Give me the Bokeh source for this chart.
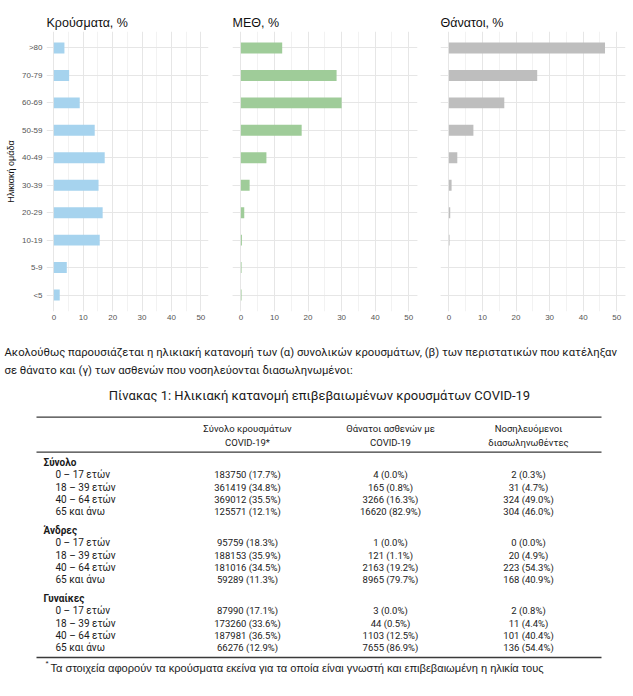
from bokeh.plotting import figure
from bokeh.layouts import column, row
from bokeh.models import Range1d, FixedTicker, ColumnDataSource, Grid
from bokeh.core.properties import value
from bokeh.embed import file_html
from bokeh.resources import INLINE

# ---------------- data ----------------
ages = ["<5", "5-9", "10-19", "20-29", "30-39", "40-49", "50-59", "60-69", "70-79", ">80"]
cases_pct = [2.0, 4.4, 15.6, 16.6, 15.2, 17.3, 13.9, 8.8, 5.2, 3.6]
icu_pct = [0.2, 0.2, 0.3, 1.0, 2.6, 7.6, 18.1, 30.0, 28.5, 12.3]
deaths_pct = [0.0, 0.0, 0.2, 0.4, 0.8, 2.5, 7.3, 16.5, 26.3, 46.5]
x_ticks = [0, 10, 20, 30, 40, 50]

paragraph = [
    "Ακολούθως παρουσιάζεται η ηλικιακή κατανομή των (α) συνολικών κρουσμάτων, (β) των περιστατικών που κατέληξαν",
    "σε θάνατο και (γ) των ασθενών που νοσηλεύονται διασωληνωμένοι:",
]
table_title = "Πίνακας 1: Ηλικιακή κατανομή επιβεβαιωμένων κρουσμάτων COVID-19"
col_headers = [["Σύνολο κρουσμάτων", "COVID-19*"],
               ["Θάνατοι ασθενών με", "COVID-19"],
               ["Νοσηλευόμενοι", "διασωληνωθέντες"]]
groups = ["Σύνολο", "Άνδρες", "Γυναίκες"]
row_labels = ["0 – 17 ετών", "18 – 39 ετών", "40 – 64 ετών", "65 και άνω"]
tbl_cases_n = [[183750, 361419, 369012, 125571], [95759, 188153, 181016, 59289], [87990, 173260, 187981, 66276]]
tbl_cases_p = [[17.7, 34.8, 35.5, 12.1], [18.3, 35.9, 34.5, 11.3], [17.1, 33.6, 36.5, 12.9]]
tbl_deaths_n = [[4, 165, 3266, 16620], [1, 121, 2163, 8965], [3, 44, 1103, 7655]]
tbl_deaths_p = [[0.0, 0.8, 16.3, 82.9], [0.0, 1.1, 19.2, 79.7], [0.0, 0.5, 12.5, 86.9]]
tbl_icu_n = [[2, 31, 324, 304], [0, 20, 223, 168], [2, 11, 101, 136]]
tbl_icu_p = [[0.3, 4.7, 49.0, 46.0], [0.0, 4.9, 54.3, 40.9], [0.8, 4.4, 40.4, 54.4]]
footnote = "Τα στοιχεία αφορούν τα κρούσματα εκείνα για τα οποία είναι γνωστή και επιβεβαιωμένη η ηλικία τους"

SANS = "Liberation Sans"
NARROW = "Roboto"
TICK_COLOR = "#555555"


def panel(vals, color, title, w, left, right, show_y):
    p = figure(width=w, height=331,
               min_border_left=left, min_border_right=right,
               min_border_top=31, min_border_bottom=20,
               x_range=Range1d(-2.5, 52.6), y_range=Range1d(-0.6, 9.6),
               y_axis_location="left" if show_y else None,
               output_backend="svg", toolbar_location=None, title=title)
    p.title.text_font = SANS
    p.title.text_font_size = "12.5px"
    p.title.text_font_style = "normal"
    p.title.text_color = "#111111"
    p.title.align = "left"
    p.title.standoff = 4
    p.outline_line_color = None
    p.background_fill_color = "white"

    p.xaxis.ticker = FixedTicker(ticks=x_ticks, minor_ticks=[5, 15, 25, 35, 45])
    p.xaxis.axis_line_color = None
    p.xaxis.major_tick_line_color = None
    p.xaxis.minor_tick_line_color = None
    p.xaxis.major_tick_out = 0
    p.xaxis.major_tick_in = 0
    p.xaxis.minor_tick_out = 0
    p.xaxis.major_label_text_font = SANS
    p.xaxis.major_label_text_font_size = "8px"
    p.xaxis.major_label_text_color = TICK_COLOR
    p.xaxis.major_label_standoff = 3
    p.xgrid.grid_line_color = "#e6e6e6"
    p.xgrid.minor_grid_line_color = "#f2f2f2"

    yt = FixedTicker(ticks=list(range(len(ages))))
    if show_y:
        p.yaxis.ticker = yt
        p.yaxis.major_label_overrides = {i: a for i, a in enumerate(ages)}
        p.yaxis.axis_line_color = None
        p.yaxis.major_tick_line_color = None
        p.yaxis.minor_tick_line_color = None
        p.yaxis.major_tick_out = 0
        p.yaxis.major_tick_in = 0
        p.yaxis.minor_tick_out = 0
        p.yaxis.major_label_text_font = SANS
        p.yaxis.major_label_text_font_size = "8px"
        p.yaxis.major_label_text_color = TICK_COLOR
        p.yaxis.major_label_standoff = 4
        p.yaxis.axis_label = "Ηλικιακή ομάδα"
        p.yaxis.axis_label_text_font = SANS
        p.yaxis.axis_label_text_font_size = "9px"
        p.yaxis.axis_label_text_font_style = "normal"
        p.yaxis.axis_label_text_color = "#111111"
        p.yaxis.axis_label_standoff = 3
        p.ygrid.ticker = yt
        p.ygrid.grid_line_color = "#e6e6e6"
    else:
        p.add_layout(Grid(dimension=1, ticker=yt, grid_line_color="#e6e6e6"))

    src = ColumnDataSource(dict(pos=list(range(len(ages))), val=vals))
    p.hbar(y="pos", left=0, right="val", height=0.4, source=src,
           fill_color=color, line_color=None)
    return p


p1 = panel(cases_pct, "#a6d3ee", "Κρούσματα, %", 220, 46, 12, True)
p2 = panel(icu_pct, "#9fcc99", "ΜΕΘ, %", 205, 12, 8, False)
p3 = panel(deaths_pct, "#bebebe", "Θάνατοι, %", 206, 15, 6, False)

# ---------------- lower part: text + table (page pixel coordinates) ----------------
W = 631
TOP = 331
H = 360
q = figure(width=W, height=H, x_range=Range1d(0, W), y_range=Range1d(TOP + H, TOP),
           x_axis_type=None, y_axis_type=None, min_border=0,
           output_backend="svg", toolbar_location=None)
q.outline_line_color = None
q.background_fill_color = "white"

TXT = "#1a1a1a"
# paragraph
q.text(x=[4] * len(paragraph), y=[352 + 18 * i for i in range(len(paragraph))], text=paragraph,
       text_font=value(NARROW), text_font_size="11.3px", text_color=TXT,
       text_baseline="middle", text_align="left")
# table title
q.text(x=[319], y=[395], text=[table_title], text_font=value(NARROW), text_font_size="13px",
       text_color=TXT, text_baseline="middle", text_align="center")

# rules
q.segment(x0=[36, 36, 36], x1=[601, 601, 601], y0=[416.7, 451.7, 657], y1=[416.7, 451.7, 657],
          line_color="#3a3a3a", line_width=1.3)

col_x = [247, 390, 528]
hx, hy, ht = [], [], []
for c, lines in enumerate(col_headers):
    for li, t in enumerate(lines):
        hx.append(col_x[c]); hy.append(428 + 14 * li); ht.append(t)
q.text(x=hx, y=hy, text=ht, text_font=value(NARROW), text_font_size="9.5px", text_color=TXT,
       text_baseline="middle", text_align="center")

G0 = 462
GSTEP = 68
RSTEP = 12.3
q.text(x=[43] * len(groups), y=[G0 + GSTEP * g for g in range(len(groups))], text=groups,
       text_font=value(NARROW), text_font_size="10px", text_font_style="bold", text_color=TXT,
       text_baseline="middle", text_align="left")

lx, ly, lt = [], [], []
cx, cy, ct = [], [], []
for g in range(len(groups)):
    for k, lab in enumerate(row_labels):
        y = G0 + GSTEP * g + RSTEP * (k + 1)
        lx.append(55); ly.append(y); lt.append(lab)
        cells = [f"{tbl_cases_n[g][k]} ({tbl_cases_p[g][k]:.1f}%)",
                 f"{tbl_deaths_n[g][k]} ({tbl_deaths_p[g][k]:.1f}%)",
                 f"{tbl_icu_n[g][k]} ({tbl_icu_p[g][k]:.1f}%)"]
        for c, t in enumerate(cells):
            cx.append(col_x[c]); cy.append(y); ct.append(t)
q.text(x=lx, y=ly, text=lt, text_font=value(NARROW), text_font_size="10px", text_color=TXT,
       text_baseline="middle", text_align="left")
q.text(x=cx, y=cy, text=ct, text_font=value(NARROW), text_font_size="9.5px", text_color=TXT,
       text_baseline="middle", text_align="center")

# footnote
q.text(x=[45], y=[663], text=["*"], text_font=value(SANS), text_font_size="8px", text_color=TXT,
       text_baseline="middle", text_align="left")
q.text(x=[50], y=[667], text=[footnote], text_font=value(SANS), text_font_size="11.1px", text_color=TXT,
       text_baseline="middle", text_align="left")

layout = column(row(p1, p2, p3), q)
open("out.html", "w").write(file_html(layout, INLINE))
